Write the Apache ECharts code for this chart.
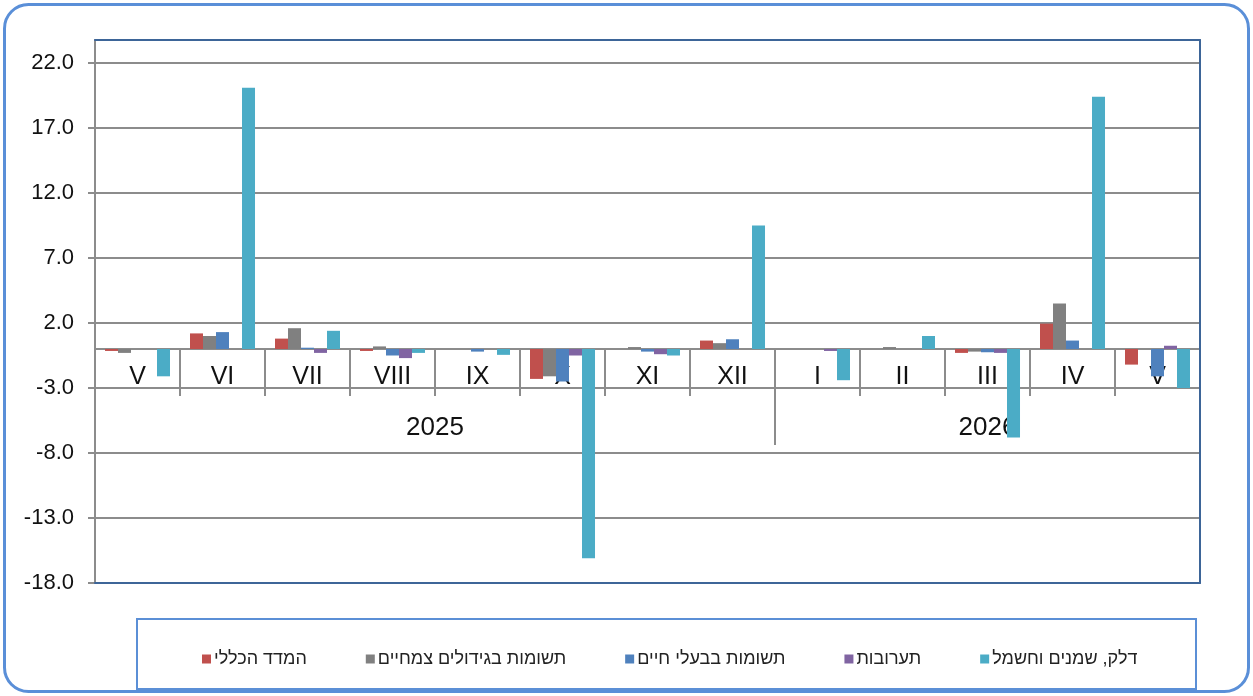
<!DOCTYPE html>
<html>
<head>
<meta charset="utf-8">
<script src="https://cdn.jsdelivr.net/npm/echarts@6/dist/echarts.min.js"></script>
<style>
html,body{margin:0;padding:0;background:#fff;}
#c{width:1253px;height:696px;}
</style>
</head>
<body>
<div id="c"></div>
<script>
// ---- data ----
const months = ['V','VI','VII','VIII','IX','X','XI','XII','I','II','III','IV','V'];
const years = ['2025','2026'];
const yearSpans = [8, 5];
const seriesNames = ['המדד הכללי','תשומות בגידולים צמחיים','תשומות בבעלי חיים','תערובות','דלק, שמנים וחשמל'];
const generalIndex = [-0.15, 1.2, 0.8, -0.15, 0, -2.3, 0, 0.65, 0, 0, -0.3, 1.95, -1.2];
const plantInputs  = [-0.3, 1.0, 1.6, 0.2, 0, -2.1, 0.15, 0.45, 0, 0.15, -0.2, 3.5, 0];
const animalInputs = [0, 1.3, 0.1, -0.5, -0.2, -2.5, -0.2, 0.75, 0, 0, -0.25, 0.65, -2.1];
const feed         = [0, 0, -0.3, -0.7, 0, -0.5, -0.4, 0, -0.15, 0, -0.3, 0, 0.25];
const fuel         = [-2.1, 20.1, 1.4, -0.3, -0.45, -16.1, -0.5, 9.5, -2.4, 1.0, -6.8, 19.4, -3.0];
const yMin = -18, yMax = 23.77, yStep = 5;

// ---- build ----
const colors = ['#c0504d','#808080','#4f81bd','#8064a2','#4bacc6'];
const values = [generalIndex, plantInputs, animalInputs, feed, fuel];
const FONT = "'Liberation Sans', Arial, sans-serif";
const GRAY = '#8c8c8c', BORDER = '#3d6598';

const nPts = months.length * 2 + 1;
const yearPts = new Array(nPts).fill('');
const yearDividers = [];
let cum = 0;
yearSpans.forEach((s, i) => {
  yearPts[cum * 2 + s] = years[i];
  cum += s;
  if (i < yearSpans.length - 1) yearDividers.push(cum * 2);
});

const chart = echarts.init(document.getElementById('c'));
const option = {
  animation: false,
  textStyle: {fontFamily: FONT},
  grid: {left: 95, right: 53, top: 40, bottom: 113, containLabel: false, outerBoundsMode: 'none'},
  xAxis: [
    {
      type: 'category', data: months, boundaryGap: true, position: 'bottom', offset: 0, z: 1,
      axisLine: {onZero: false, lineStyle: {color: GRAY, width: 2}},
      axisTick: {show: true, interval: 0, length: 47, lineStyle: {color: GRAY, width: 2}},
      axisLabel: {interval: 0, margin: 16, fontSize: 25, color: '#111', fontFamily: FONT},
      splitLine: {show: false}
    },
    {
      type: 'category', data: yearPts, boundaryGap: false, position: 'bottom', offset: 0, z: 1,
      axisLine: {show: false, onZero: false},
      axisTick: {show: true, interval: (i) => yearDividers.indexOf(i) >= 0, length: 96, lineStyle: {color: GRAY, width: 2}},
      axisLabel: {interval: 0, margin: 66, fontSize: 26, color: '#111', fontFamily: FONT},
      splitLine: {show: false}
    },
    {
      type: 'category', data: months, position: 'top', z: 10,
      axisLine: {onZero: false, lineStyle: {color: BORDER, width: 2}},
      axisTick: {show: false}, axisLabel: {show: false}, splitLine: {show: false}
    },
    {
      type: 'category', data: months, position: 'bottom', offset: 0, z: 10,
      axisLine: {onZero: false, lineStyle: {color: BORDER, width: 2}},
      axisTick: {show: false}, axisLabel: {show: false}, splitLine: {show: false}
    }
  ],
  yAxis: [
    {
      type: 'value', min: yMin, max: yMax, interval: yStep,
      axisLine: {show: true, onZero: false, lineStyle: {color: GRAY, width: 2}},
      axisTick: {show: true, length: 7, lineStyle: {color: GRAY, width: 2}},
      axisLabel: {margin: 21, fontSize: 22, color: '#111', fontFamily: FONT, showMaxLabel: false,
        formatter: (v) => v.toFixed(1)},
      splitLine: {show: true, lineStyle: {color: GRAY, width: 2}}
    },
    {
      type: 'value', min: yMin, max: yMax, interval: yStep, position: 'right', z: 10,
      axisLine: {show: true, onZero: false, lineStyle: {color: BORDER, width: 2}},
      axisTick: {show: false}, axisLabel: {show: false}, splitLine: {show: false}
    }
  ],
  legend: {
    left: 197, top: 645,
    icon: 'rect', itemWidth: 9, itemHeight: 9, itemGap: 59,
    textStyle: {fontSize: 18, color: '#222', fontFamily: FONT, padding: [0, 0, 0, -2]},
    data: seriesNames
  },
  graphic: [
    {type: 'rect', shape: {x: 137, y: 619, width: 1059, height: 70}, style: {fill: 'none', stroke: '#5b8fd6', lineWidth: 2}, silent: true},
    {type: 'rect', shape: {x: 4.5, y: 4.5, width: 1244, height: 687, r: 24}, style: {fill: 'none', stroke: '#5a8fd8', lineWidth: 3}, silent: true}
  ],
  series: seriesNames.map((n, i) => ({
    name: n, type: 'bar', xAxisIndex: 0, yAxisIndex: 0, z: 2,
    data: values[i], barGap: '0%', barCategoryGap: '23.5%',
    itemStyle: {color: colors[i]}
  }))
};
chart.setOption(option);
// place the category axes on the value 0 line using the library's own scale
const zeroY = chart.convertToPixel({yAxisIndex: 0}, 0);
const bottomY = chart.convertToPixel({yAxisIndex: 0}, yMin);
const off = zeroY - bottomY;
chart.setOption({xAxis: [{offset: off}, {offset: off}, {}, {}]});
</script>
</body>
</html>
